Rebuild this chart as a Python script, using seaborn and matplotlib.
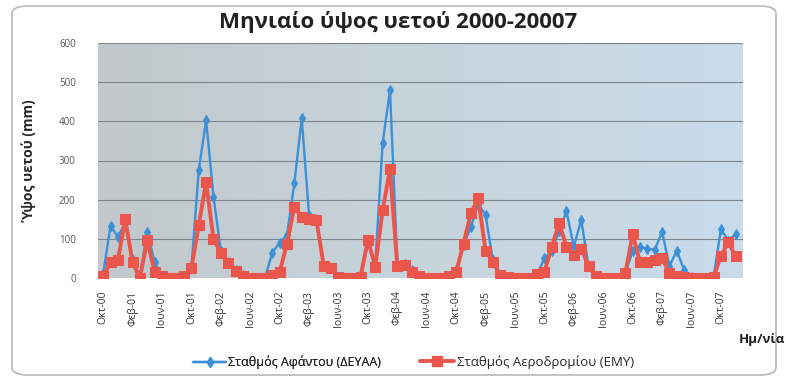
import numpy as np
import pandas as pd
import matplotlib
matplotlib.use("Agg")
import matplotlib.pyplot as plt
from matplotlib.colors import LinearSegmentedColormap
from matplotlib.patches import FancyBboxPatch
from matplotlib.lines import Line2D
import seaborn as sns

# Monthly rainfall (mm), October 2000 - December 2007
afantou = [10, 133, 105, 140, 45, 5, 118, 40, 5, 0, 0, 5,
           25, 276, 403, 208, 70, 40, 20, 8, 0, 0, 0, 65,
           90, 110, 242, 408, 160, 150, 30, 25, 3, 0, 0, 3,
           90, 35, 344, 480, 35, 35, 20, 5, 0, 0, 0, 5,
           20, 85, 130, 190, 160, 45, 8, 3, 0, 0, 0, 10,
           50, 70, 120, 170, 80, 148, 30, 5, 0, 0, 0, 10,
           70, 80, 75, 72, 118, 30, 70, 20, 3, 0, 0, 3,
           125, 95, 112]
aerodromiou = [5, 40, 45, 150, 40, 0, 97, 15, 5, 0, 0, 5,
               25, 135, 245, 100, 64, 38, 18, 5, 0, 0, 0, 8,
               15, 88, 182, 155, 150, 148, 30, 25, 3, 0, 0, 3,
               97, 29, 173, 278, 30, 32, 15, 5, 0, 0, 0, 5,
               15, 88, 165, 203, 70, 40, 8, 3, 0, 0, 0, 10,
               15, 80, 140, 80, 58, 75, 30, 5, 0, 0, 0, 12,
               112, 40, 40, 46, 50, 13, 5, 3, 0, 0, 0, 3,
               55, 92, 55]

tick_labels = ["Οκτ-00", "Φεβ-01", "Ιουν-01", "Οκτ-01", "Φεβ-02", "Ιουν-02",
               "Οκτ-02", "Φεβ-03", "Ιουν-03", "Οκτ-03", "Φεβ-04", "Ιουν-04",
               "Οκτ-04", "Φεβ-05", "Ιουν-05", "Οκτ-05", "Φεβ-06", "Ιουν-06",
               "Οκτ-06", "Φεβ-07", "Ιουν-07", "Οκτ-07"]

series_names = ["Σταθμός Αφάντου (ΔΕΥΑΑ)", "Σταθμός Αεροδρομίου (ΕΜΥ)"]
colors = ["#3b90d8", "#ea554c"]

months = np.arange(len(afantou))
df = pd.DataFrame({
    "month": np.concatenate([months, months]),
    "rain": afantou + aerodromiou,
    "station": [series_names[0]] * len(afantou) + [series_names[1]] * len(aerodromiou),
})

sns.set_theme(style="white")
plt.rcParams["font.family"] = ["Open Sans", "DejaVu Sans"]

fig = plt.figure(figsize=(7.86, 3.83), dpi=100)
fig.patch.set_facecolor("white")

# rounded chart frame
frame = FancyBboxPatch((12 / 786, 8 / 383), 764 / 786, 369 / 383,
                       boxstyle="round,pad=0,rounding_size=0.02",
                       transform=fig.transFigure, facecolor="none",
                       edgecolor="#b8b8b8", linewidth=1.2, zorder=-1)
fig.patches.append(frame)

ax = fig.add_axes([98 / 786, 1 - 278 / 383, 645 / 786, 235 / 383])
ax.set_facecolor("none")

# gradient plot-area background
grad_cmap = LinearSegmentedColormap.from_list("bg", ["#c2c8cb", "#c7d4dc", "#c9dcec"])
gradient = np.linspace(0, 1, 256).reshape(1, -1)
ax.imshow(gradient, extent=[0, 1, 0, 1], transform=ax.transAxes,
          cmap=grad_cmap, aspect="auto", zorder=0)

for y in range(100, 601, 100):
    ax.axhline(y, color="#7d858c", linewidth=0.8, zorder=1)

sns.lineplot(data=df[df.station == series_names[0]], x="month", y="rain",
             color=colors[0], linewidth=1.7, marker="d", markersize=5.5,
             markeredgecolor=colors[0], ax=ax, legend=False, zorder=3)
sns.lineplot(data=df[df.station == series_names[1]], x="month", y="rain",
             color=colors[1], linewidth=2.8, marker="s", markersize=6.5,
             markeredgecolor=colors[1], ax=ax, legend=False, zorder=4)

ax.set_xlim(-0.7, 87.0)
ax.set_ylim(0, 600)
ax.set_yticks(range(0, 601, 100))
ax.set_yticklabels([str(v) for v in range(0, 601, 100)], fontsize=7, color="#555555")
ax.set_xticks(np.arange(0, 85, 4))
ax.set_xticklabels(tick_labels, rotation=90, fontsize=7.5, color="#333333")
ax.tick_params(axis="y", length=0, pad=16)
ax.tick_params(axis="x", length=0, pad=9)
ax.set_xlabel("")
ax.set_ylabel("Ύψος υετού (mm)", fontsize=10, fontweight="bold")
ax.yaxis.set_label_coords(-0.095, 0.5)
for s in ax.spines.values():
    s.set_visible(False)

fig.text(0.507, 1 - 22 / 383, "Μηνιαίο ύψος υετού 2000-20007", ha="center",
         va="center", fontsize=16, fontweight="bold", color="#222222")
fig.text(762 / 786, 1 - 339 / 383, "Ημ/νία", ha="center", va="center",
         fontsize=9.5, fontweight="bold", color="#222222")

blue_handle = [Line2D([], [], color=colors[0], linewidth=1.7, marker="d", markersize=5.5)]
red_handle = [Line2D([], [], color=colors[1], linewidth=2.8, marker="s", markersize=6.5)]
leg1 = fig.legend(blue_handle, [series_names[0]], loc="center left",
                  bbox_to_anchor=(182 / 786, 1 - 362 / 383), frameon=False,
                  fontsize=9, handlelength=2.6, handletextpad=0.2)
fig.add_artist(leg1)
fig.legend(red_handle, [series_names[1]], loc="center left",
           bbox_to_anchor=(408 / 786, 1 - 362 / 383), frameon=False,
           fontsize=9.5, handlelength=2.6, handletextpad=0.2)

fig.savefig("out.png", dpi=100, facecolor="white")
